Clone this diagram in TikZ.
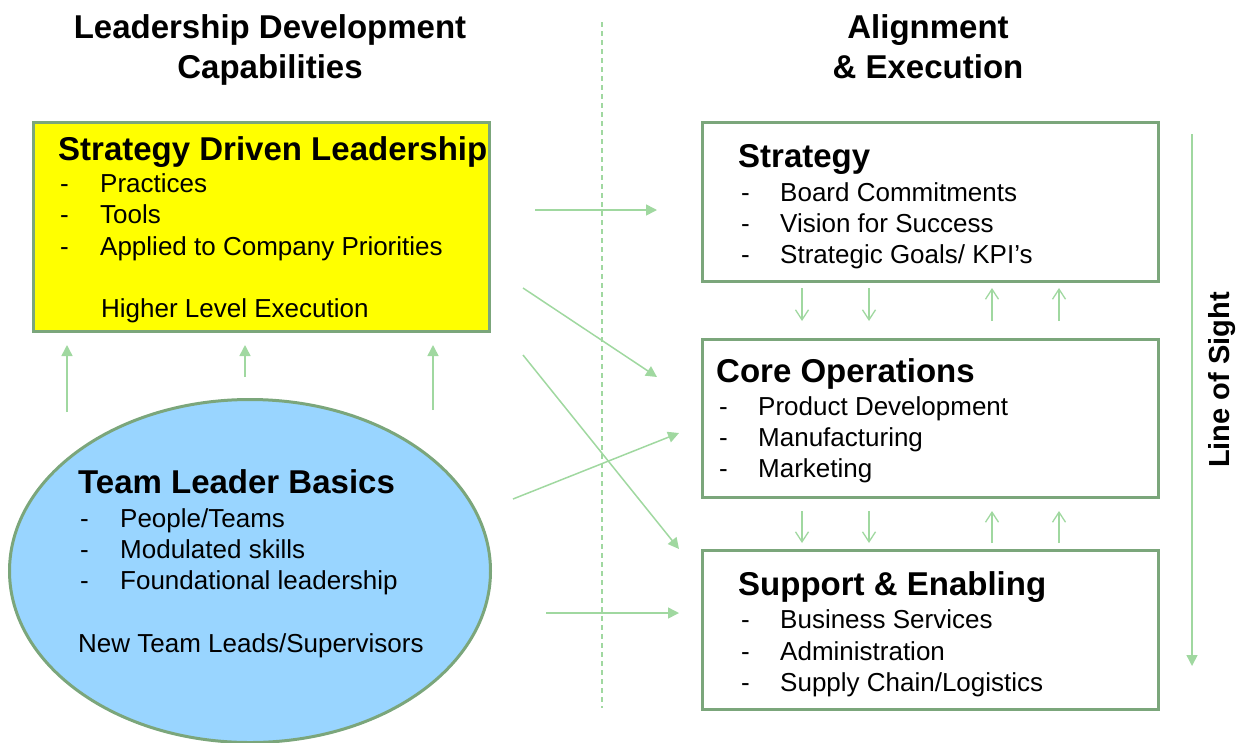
\documentclass[tikz,border=0pt]{standalone}
\usepackage{fontspec}
\setmainfont{Liberation Sans}
\usetikzlibrary{arrows.meta,shapes.geometric}

\definecolor{boxgreen}{HTML}{7BA67B}
\definecolor{arrowgreen}{HTML}{A0D8A0}
\definecolor{skyblue}{HTML}{99D5FF}
\definecolor{brightyellow}{RGB}{255,255,0}

\tikzset{
  box/.style={rectangle, draw=boxgreen, line width=3pt, inner sep=0pt},
  title/.style={anchor=base, inner sep=0pt, font=\bfseries\fontsize{33}{38}\selectfont},
  head/.style={anchor=base west, inner sep=0pt, font=\bfseries\fontsize{33}{38}\selectfont},
  txt/.style={anchor=base west, inner sep=0pt, font=\fontsize{26}{31}\selectfont},
  feed/.style={draw=arrowgreen, line width=1.5pt, -{Triangle[length=11pt,width=11pt]}},
  flow/.style={draw=arrowgreen, line width=1.3pt, -{Straight Barb[length=10pt,width=13pt]}}
}

\begin{document}
\begin{tikzpicture}[x=1pt,y=-1pt]
  \useasboundingbox (0,0) rectangle (1246,742);

  % column titles
  \node[title] (ldc1) at (270,38) {Leadership Development};
  \node[title] (ldc2) at (270,78) {Capabilities};
  \node[title] (ae1) at (928,38) {Alignment};
  \node[title] (ae2) at (928,78) {\& Execution};

  % divider
  \coordinate (divT) at (602,22);
  \coordinate (divB) at (602,708);
  \draw[arrowgreen, line width=1.2pt, dash pattern=on 5pt off 4pt] (divT) -- (divB);

  % left side: capabilities
  \node[box, fill=brightyellow, minimum width=456pt, minimum height=209pt] (sdl) at (261.5,227) {};
  \node[head] (sdlH) at (58,160) {Strategy Driven Leadership};
  \foreach \t [count=\i] in {Practices, Tools, Applied to Company Priorities}{
    \node[txt] (sdlD\i) at (60,{160.5+31.5*\i}) {-};
    \node[txt] (sdl\i) at (100,{160.5+31.5*\i}) {\t};
  }
  \node[txt] (sdlX) at (101,317) {Higher Level Execution};

  \node[ellipse, draw=boxgreen, line width=3pt, fill=skyblue, inner sep=0pt,
        minimum width=481pt, minimum height=343pt] (tlb) at (250,571) {};
  \node[head] (tlbH) at (78,493) {Team Leader Basics};
  \foreach \t [count=\i] in {People/Teams, Modulated skills, Foundational leadership}{
    \node[txt] (tlbD\i) at (80,{496+31*\i}) {-};
    \node[txt] (tlb\i) at (120,{496+31*\i}) {\t};
  }
  \node[txt] (tlbX) at (78,652) {New Team Leads/Supervisors};

  % basics feed the upper level
  \foreach \x/\y [count=\i] in {67/412, 245/377, 433/410}{
    \coordinate (upA\i) at (\x,\y);
    \coordinate (upB\i) at (\x,345);
    \draw[feed] (upA\i) -- (upB\i);
  }

  % right side: alignment
  \node[box, minimum width=456pt, minimum height=159pt] (str) at (930.5,202) {};
  \node[head] (strH) at (738,167) {Strategy};
  \foreach \t [count=\i] in {Board Commitments, Vision for Success, Strategic Goals/ KPI’s}{
    \node[txt] (strD\i) at (741,{170+31*\i}) {-};
    \node[txt] (str\i) at (780,{170+31*\i}) {\t};
  }

  \node[box, minimum width=456pt, minimum height=158pt] (core) at (930.5,418.5) {};
  \node[head] (coreH) at (716,382) {Core Operations};
  \foreach \t [count=\i] in {Product Development, Manufacturing, Marketing}{
    \node[txt] (coreD\i) at (719,{384+31*\i}) {-};
    \node[txt] (core\i) at (758,{384+31*\i}) {\t};
  }

  \node[box, minimum width=456pt, minimum height=159pt] (sup) at (930.5,630) {};
  \node[head] (supH) at (738,595) {Support \& Enabling};
  \foreach \t [count=\i] in {Business Services, Administration, Supply Chain/Logistics}{
    \node[txt] (supD\i) at (741,{597+31.5*\i}) {-};
    \node[txt] (sup\i) at (780,{597+31.5*\i}) {\t};
  }

  % up and down between the levels
  \foreach \a/\b [count=\r] in {288/321, 511/543}{
    \foreach \x [count=\i] in {802,869}{
      \coordinate (dnA\r\i) at (\x,\a);
      \coordinate (dnB\r\i) at (\x,\b);
      \draw[flow] (dnA\r\i) -- (dnB\r\i);
    }
    \foreach \x [count=\i] in {992,1059}{
      \coordinate (upC\r\i) at (\x,\b);
      \coordinate (upD\r\i) at (\x,\a);
      \draw[flow] (upC\r\i) -- (upD\r\i);
    }
  }

  % capabilities applied across
  \coordinate (f1a) at (535,210); \coordinate (f1b) at (657,210);
  \coordinate (f2a) at (523,288); \coordinate (f2b) at (657,377);
  \coordinate (f3a) at (523,355); \coordinate (f3b) at (679,549);
  \coordinate (f4a) at (513,499); \coordinate (f4b) at (679,433);
  \coordinate (f5a) at (546,613); \coordinate (f5b) at (679,613);
  \foreach \i in {1,...,5}{
    \draw[feed] (f\i a) -- (f\i b);
  }

  % line of sight
  \coordinate (losT) at (1192,134);
  \coordinate (losB) at (1192,666);
  \draw[feed] (losT) -- (losB);
  \node[rotate=90, inner sep=0pt, font=\bfseries\fontsize{29}{34}\selectfont] (los) at (1222,380) {Line of Sight};
\end{tikzpicture}
\end{document}
